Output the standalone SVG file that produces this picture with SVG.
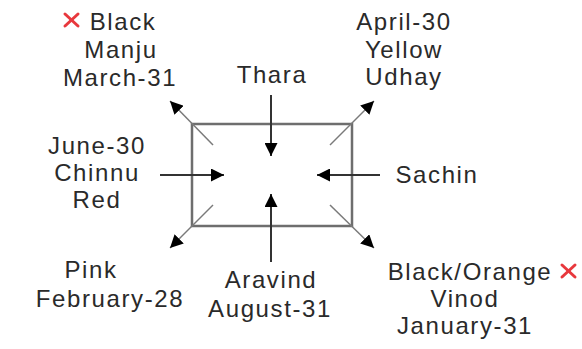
<svg xmlns="http://www.w3.org/2000/svg" width="582" height="349" viewBox="0 0 582 349">
<style>
text{font-family:"Liberation Sans",Arial,sans-serif;font-size:24px;fill:#2a2a2a;text-anchor:middle;letter-spacing:1.6px}
.ax{stroke:#333;stroke-width:2;fill:none}
.dg{stroke:#7a7a7a;stroke-width:1.5;fill:none}
.x{stroke:#e8383d;stroke-width:3;stroke-linecap:round}
</style>
<defs>
<marker id="ah" viewBox="0 0 12 12" refX="12" refY="6" markerWidth="13" markerHeight="13" markerUnits="userSpaceOnUse" orient="auto">
<path d="M0,0 L12,6 L0,12 z" fill="#000"/>
</marker>
</defs>
<rect width="582" height="349" fill="#fff"/>
<g id="box"><rect x="192" y="124" width="160" height="102" fill="#fff" stroke="#6e6e6e" stroke-width="2.5"/></g>
<g id="connectors">
<line class="ax" x1="271" y1="95" x2="271" y2="156" marker-end="url(#ah)"/>
<line class="ax" x1="271" y1="262" x2="271" y2="194" marker-end="url(#ah)"/>
<line class="ax" x1="160" y1="175" x2="224" y2="175" marker-end="url(#ah)"/>
<line class="ax" x1="380" y1="175" x2="317" y2="175" marker-end="url(#ah)"/>
<line class="dg" x1="213" y1="145" x2="170" y2="101" marker-end="url(#ah)"/>
<line class="dg" x1="330" y1="145" x2="374" y2="101" marker-end="url(#ah)"/>
<line class="dg" x1="213" y1="205" x2="170" y2="248" marker-end="url(#ah)"/>
<line class="dg" x1="330" y1="205" x2="374" y2="248" marker-end="url(#ah)"/>
</g>
<g id="n-manju">
<line class="x" x1="65" y1="14" x2="78" y2="26"/><line class="x" x1="78" y1="14" x2="65" y2="26"/>
<text x="123" y="30">Black</text>
<text x="121" y="58">Manju</text>
<text x="120" y="86">March-31</text>
</g>
<g id="n-udhay">
<text x="404" y="30">April-30</text>
<text x="404" y="57.5">Yellow</text>
<text x="404" y="85">Udhay</text>
</g>
<g id="n-thara"><text x="272" y="83">Thara</text></g>
<g id="n-chinnu">
<text x="97" y="154">June-30</text>
<text x="97" y="181">Chinnu</text>
<text x="97" y="208">Red</text>
</g>
<g id="n-sachin"><text x="437" y="183">Sachin</text></g>
<g id="n-pink">
<text x="91" y="278">Pink</text>
<text x="110" y="307">February-28</text>
</g>
<g id="n-aravind">
<text x="271" y="288">Aravind</text>
<text x="270" y="317">August-31</text>
</g>
<g id="n-vinod">
<text x="470" y="279.5">Black/Orange</text>
<line class="x" x1="562" y1="265" x2="575" y2="277"/><line class="x" x1="575" y1="265" x2="562" y2="277"/>
<text x="465" y="306.5">Vinod</text>
<text x="465" y="333.5">January-31</text>
</g>
</svg>
